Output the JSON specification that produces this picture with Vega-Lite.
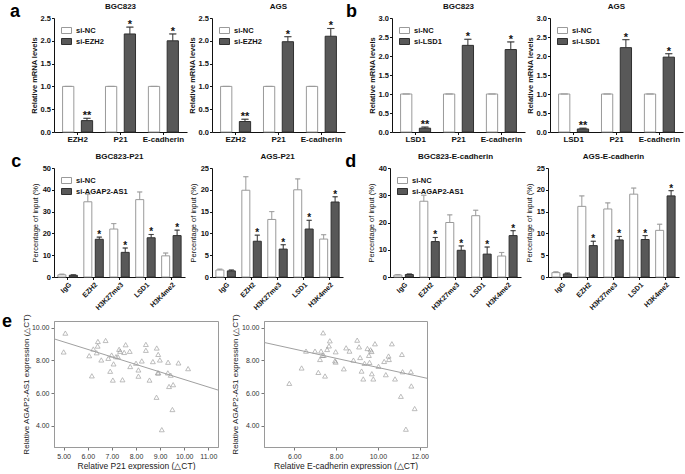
{
  "$schema": "https://vega.github.io/schema/vega-lite/v6.json",
  "padding": {"left": 1, "top": 3, "right": 1, "bottom": 0},
  "background": "white",
  "datasets": {
    "a1": [
      {"gene": "EZH2", "group": "si-NC", "value": 1, "upper": 1, "star": ""},
      {"gene": "EZH2", "group": "si-EZH2", "value": 0.25, "upper": 0.30, "star": "**"},
      {"gene": "P21", "group": "si-NC", "value": 1, "upper": 1, "star": ""},
      {"gene": "P21", "group": "si-EZH2", "value": 2.15, "upper": 2.30, "star": "*"},
      {"gene": "E-cadherin", "group": "si-NC", "value": 1, "upper": 1, "star": ""},
      {"gene": "E-cadherin", "group": "si-EZH2", "value": 2.00, "upper": 2.15, "star": "*"}
    ],
    "a2": [
      {"gene": "EZH2", "group": "si-NC", "value": 1, "upper": 1, "star": ""},
      {"gene": "EZH2", "group": "si-EZH2", "value": 0.23, "upper": 0.28, "star": "**"},
      {"gene": "P21", "group": "si-NC", "value": 1, "upper": 1, "star": ""},
      {"gene": "P21", "group": "si-EZH2", "value": 1.98, "upper": 2.09, "star": "*"},
      {"gene": "E-cadherin", "group": "si-NC", "value": 1, "upper": 1, "star": ""},
      {"gene": "E-cadherin", "group": "si-EZH2", "value": 2.10, "upper": 2.27, "star": "*"}
    ],
    "b1": [
      {"gene": "LSD1", "group": "si-NC", "value": 1, "upper": 1, "star": ""},
      {"gene": "LSD1", "group": "si-LSD1", "value": 0.10, "upper": 0.13, "star": "**"},
      {"gene": "P21", "group": "si-NC", "value": 1, "upper": 1, "star": ""},
      {"gene": "P21", "group": "si-LSD1", "value": 2.28, "upper": 2.44, "star": "*"},
      {"gene": "E-cadherin", "group": "si-NC", "value": 1, "upper": 1, "star": ""},
      {"gene": "E-cadherin", "group": "si-LSD1", "value": 2.17, "upper": 2.37, "star": "*"}
    ],
    "b2": [
      {"gene": "LSD1", "group": "si-NC", "value": 1, "upper": 1, "star": ""},
      {"gene": "LSD1", "group": "si-LSD1", "value": 0.08, "upper": 0.10, "star": "**"},
      {"gene": "P21", "group": "si-NC", "value": 1, "upper": 1, "star": ""},
      {"gene": "P21", "group": "si-LSD1", "value": 2.22, "upper": 2.43, "star": "*"},
      {"gene": "E-cadherin", "group": "si-NC", "value": 1, "upper": 1, "star": ""},
      {"gene": "E-cadherin", "group": "si-LSD1", "value": 1.97, "upper": 2.06, "star": "*"}
    ],
    "c1": [
      {"gene": "IgG", "group": "si-NC", "value": 1.0, "upper": 1.3, "star": ""},
      {"gene": "IgG", "group": "si-AGAP2-AS1", "value": 0.8, "upper": 1.0, "star": ""},
      {"gene": "EZH2", "group": "si-NC", "value": 34.5, "upper": 38.0, "star": ""},
      {"gene": "EZH2", "group": "si-AGAP2-AS1", "value": 17.3, "upper": 18.3, "star": "*"},
      {"gene": "H3K27me3", "group": "si-NC", "value": 22.0, "upper": 24.5, "star": ""},
      {"gene": "H3K27me3", "group": "si-AGAP2-AS1", "value": 11.3, "upper": 13.3, "star": "*"},
      {"gene": "LSD1", "group": "si-NC", "value": 35.5, "upper": 39.0, "star": ""},
      {"gene": "LSD1", "group": "si-AGAP2-AS1", "value": 18.0, "upper": 19.5, "star": "*"},
      {"gene": "H3K4me2", "group": "si-NC", "value": 9.7, "upper": 11.0, "star": ""},
      {"gene": "H3K4me2", "group": "si-AGAP2-AS1", "value": 19.0, "upper": 21.5, "star": "*"}
    ],
    "c2": [
      {"gene": "IgG", "group": "si-NC", "value": 1.6, "upper": 1.8, "star": ""},
      {"gene": "IgG", "group": "si-AGAP2-AS1", "value": 1.4, "upper": 1.6, "star": ""},
      {"gene": "EZH2", "group": "si-NC", "value": 19.9, "upper": 23.0, "star": ""},
      {"gene": "EZH2", "group": "si-AGAP2-AS1", "value": 8.2, "upper": 9.6, "star": "*"},
      {"gene": "H3K27me3", "group": "si-NC", "value": 13.2, "upper": 15.0, "star": ""},
      {"gene": "H3K27me3", "group": "si-AGAP2-AS1", "value": 6.4, "upper": 7.4, "star": "*"},
      {"gene": "LSD1", "group": "si-NC", "value": 20.0, "upper": 22.5, "star": ""},
      {"gene": "LSD1", "group": "si-AGAP2-AS1", "value": 11.0, "upper": 13.0, "star": "*"},
      {"gene": "H3K4me2", "group": "si-NC", "value": 8.7, "upper": 9.7, "star": ""},
      {"gene": "H3K4me2", "group": "si-AGAP2-AS1", "value": 17.2, "upper": 18.4, "star": "*"}
    ],
    "d1": [
      {"gene": "IgG", "group": "si-NC", "value": 0.7, "upper": 0.9, "star": ""},
      {"gene": "IgG", "group": "si-AGAP2-AS1", "value": 0.9, "upper": 1.1, "star": ""},
      {"gene": "EZH2", "group": "si-NC", "value": 27.8, "upper": 30.0, "star": ""},
      {"gene": "EZH2", "group": "si-AGAP2-AS1", "value": 13.0, "upper": 14.5, "star": "*"},
      {"gene": "H3K27me3", "group": "si-NC", "value": 20.0, "upper": 22.8, "star": ""},
      {"gene": "H3K27me3", "group": "si-AGAP2-AS1", "value": 9.8, "upper": 11.4, "star": "*"},
      {"gene": "LSD1", "group": "si-NC", "value": 22.5, "upper": 24.5, "star": ""},
      {"gene": "LSD1", "group": "si-AGAP2-AS1", "value": 8.4, "upper": 11.0, "star": "*"},
      {"gene": "H3K4me2", "group": "si-NC", "value": 7.7, "upper": 9.0, "star": ""},
      {"gene": "H3K4me2", "group": "si-AGAP2-AS1", "value": 15.2, "upper": 17.0, "star": "*"}
    ],
    "d2": [
      {"gene": "IgG", "group": "si-NC", "value": 1.0, "upper": 1.2, "star": ""},
      {"gene": "IgG", "group": "si-AGAP2-AS1", "value": 0.7, "upper": 0.9, "star": ""},
      {"gene": "EZH2", "group": "si-NC", "value": 16.2, "upper": 18.6, "star": ""},
      {"gene": "EZH2", "group": "si-AGAP2-AS1", "value": 7.2, "upper": 8.2, "star": "*"},
      {"gene": "H3K27me3", "group": "si-NC", "value": 15.6, "upper": 17.0, "star": ""},
      {"gene": "H3K27me3", "group": "si-AGAP2-AS1", "value": 8.5, "upper": 9.3, "star": "*"},
      {"gene": "LSD1", "group": "si-NC", "value": 19.0, "upper": 20.4, "star": ""},
      {"gene": "LSD1", "group": "si-AGAP2-AS1", "value": 8.6, "upper": 9.5, "star": "*"},
      {"gene": "H3K4me2", "group": "si-NC", "value": 10.7, "upper": 12.1, "star": ""},
      {"gene": "H3K4me2", "group": "si-AGAP2-AS1", "value": 18.6, "upper": 19.8, "star": "*"}
    ],
    "e1pts": [
      {"x": 5.07, "y": 9.66}, {"x": 5.0, "y": 8.51}, {"x": 6.06, "y": 8.28}, {"x": 6.17, "y": 7.05},
      {"x": 6.23, "y": 8.69}, {"x": 6.37, "y": 8.46}, {"x": 6.41, "y": 8.87}, {"x": 6.42, "y": 9.15},
      {"x": 6.56, "y": 8.02}, {"x": 6.74, "y": 9.21}, {"x": 6.85, "y": 8.12}, {"x": 6.93, "y": 7.33},
      {"x": 6.99, "y": 8.32}, {"x": 7.04, "y": 6.79}, {"x": 7.07, "y": 7.78}, {"x": 7.17, "y": 8.22},
      {"x": 7.25, "y": 8.22}, {"x": 7.3, "y": 8.67}, {"x": 7.34, "y": 8.55}, {"x": 7.44, "y": 6.81},
      {"x": 7.51, "y": 8.48}, {"x": 7.57, "y": 8.95}, {"x": 7.74, "y": 8.55}, {"x": 7.76, "y": 7.62},
      {"x": 8.0, "y": 7.82}, {"x": 8.1, "y": 7.41}, {"x": 8.1, "y": 7.03}, {"x": 8.24, "y": 7.96},
      {"x": 8.41, "y": 8.97}, {"x": 8.41, "y": 8.61}, {"x": 8.56, "y": 6.79}, {"x": 8.7, "y": 7.92},
      {"x": 8.86, "y": 8.75}, {"x": 8.92, "y": 8.36}, {"x": 8.99, "y": 8.02}, {"x": 8.85, "y": 5.74},
      {"x": 8.9, "y": 7.23}, {"x": 8.93, "y": 7.23}, {"x": 9.33, "y": 7.88}, {"x": 9.32, "y": 7.23},
      {"x": 9.37, "y": 6.4}, {"x": 9.44, "y": 7.09}, {"x": 9.54, "y": 6.51}, {"x": 9.51, "y": 4.99},
      {"x": 9.07, "y": 3.76}, {"x": 9.76, "y": 7.84}, {"x": 10.16, "y": 7.49}
    ],
    "e1fit": [{"x": 4.6, "y": 9.31}, {"x": 11.4, "y": 6.18}],
    "e2pts": [
      {"x": 5.76, "y": 6.59}, {"x": 6.35, "y": 7.53}, {"x": 6.56, "y": 8.56}, {"x": 6.99, "y": 8.56},
      {"x": 7.15, "y": 7.26}, {"x": 7.23, "y": 8.05}, {"x": 7.28, "y": 8.56}, {"x": 7.34, "y": 8.30},
      {"x": 7.38, "y": 9.68}, {"x": 7.41, "y": 8.30}, {"x": 7.47, "y": 7.04}, {"x": 7.57, "y": 8.66},
      {"x": 7.66, "y": 8.88}, {"x": 7.70, "y": 9.19}, {"x": 7.95, "y": 7.97}, {"x": 7.98, "y": 8.52},
      {"x": 7.98, "y": 7.89}, {"x": 8.37, "y": 7.48}, {"x": 8.48, "y": 8.76}, {"x": 8.64, "y": 8.56},
      {"x": 8.83, "y": 8.01}, {"x": 9.01, "y": 9.23}, {"x": 9.10, "y": 8.82}, {"x": 9.15, "y": 8.17},
      {"x": 9.22, "y": 7.34}, {"x": 9.30, "y": 6.86}, {"x": 9.36, "y": 7.81}, {"x": 9.50, "y": 8.72},
      {"x": 9.57, "y": 8.30}, {"x": 9.60, "y": 7.87}, {"x": 9.65, "y": 8.64}, {"x": 9.70, "y": 8.54},
      {"x": 9.71, "y": 7.18}, {"x": 9.78, "y": 6.86}, {"x": 9.86, "y": 9.01}, {"x": 10.03, "y": 7.63},
      {"x": 10.30, "y": 7.93}, {"x": 10.38, "y": 7.12}, {"x": 10.51, "y": 8.26}, {"x": 10.53, "y": 8.05},
      {"x": 10.67, "y": 9.01}, {"x": 10.82, "y": 6.86}, {"x": 11.10, "y": 5.80}, {"x": 11.15, "y": 8.36},
      {"x": 11.18, "y": 7.30}, {"x": 11.34, "y": 3.79}, {"x": 11.58, "y": 7.30}, {"x": 11.60, "y": 6.43},
      {"x": 11.76, "y": 5.05}
    ],
    "e2fit": [{"x": 4.55, "y": 9.09}, {"x": 12.35, "y": 6.90}]
  },
  "concat": [
    {
      "concat": [
        {
          "hconcat": [
            {
              "title": {"text": "a", "orient": "left", "anchor": "end", "angle": 0, "align": "right", "baseline": "top", "fontSize": 18, "fontWeight": "bold", "offset": 0, "color": "#000"},
              "hconcat": [
                {
                  "title": "BGC823", "width": 133, "height": 114, "data": {"name": "a1"},
                  "encoding": {
                    "x": {"field": "gene", "type": "nominal", "title": null, "scale": {"domain": ["EZH2", "P21", "E-cadherin"], "paddingInner": 0.3, "paddingOuter": 0.2}, "axis": {"labelAngle": 0, "labelFontSize": 8}},
                    "y": {"field": "value", "type": "quantitative", "title": "Relative mRNA levels", "scale": {"domain": [0, 2.5], "nice": false}, "axis": {"values": [0, 0.5, 1, 1.5, 2, 2.5], "format": ".1f"}}
                  },
                  "layer": [
                    {"mark": {"type": "bar", "strokeWidth": 1},
                     "encoding": {
                       "xOffset": {"field": "group", "type": "nominal", "scale": {"domain": ["si-NC", "si-EZH2"], "paddingInner": 0.4}},
                       "fill": {"field": "group", "type": "nominal", "scale": {"domain": ["si-NC", "si-EZH2"], "range": ["#ffffff", "#585858"]}, "legend": {"title": null}},
                       "stroke": {"field": "group", "type": "nominal", "scale": {"domain": ["si-NC", "si-EZH2"], "range": ["#9a9a9a", "#303030"]}, "legend": {"title": null}}
                     }},
                    {"mark": {"type": "rule", "strokeWidth": 1},
                     "encoding": {"xOffset": {"field": "group", "type": "nominal"}, "y2": {"field": "upper"}, "stroke": {"field": "group", "type": "nominal"}}},
                    {"mark": {"type": "tick", "filled": false, "thickness": 0.1, "size": 7, "strokeWidth": 1},
                     "encoding": {"xOffset": {"field": "group", "type": "nominal"}, "y": {"field": "upper", "type": "quantitative", "title": "Relative mRNA levels", "axis": {"values": [0, 0.5, 1, 1.5, 2, 2.5], "format": ".1f"}}, "stroke": {"field": "group", "type": "nominal"}}},
                    {"mark": {"type": "text", "fontSize": 11, "fontWeight": "bold", "baseline": "alphabetic", "dy": 1, "fill": "#111"},
                     "encoding": {"xOffset": {"field": "group", "type": "nominal"}, "y": {"field": "upper", "type": "quantitative", "title": "Relative mRNA levels", "axis": {"values": [0, 0.5, 1, 1.5, 2, 2.5], "format": ".1f"}}, "text": {"field": "star"}}}
                  ]
                },
                {
                  "title": "AGS", "width": 133, "height": 114, "data": {"name": "a2"},
                  "encoding": {
                    "x": {"field": "gene", "type": "nominal", "title": null, "scale": {"domain": ["EZH2", "P21", "E-cadherin"], "paddingInner": 0.3, "paddingOuter": 0.2}, "axis": {"labelAngle": 0, "labelFontSize": 8}},
                    "y": {"field": "value", "type": "quantitative", "title": "Relative mRNA levels", "scale": {"domain": [0, 2.5], "nice": false}, "axis": {"values": [0, 0.5, 1, 1.5, 2, 2.5], "format": ".1f"}}
                  },
                  "layer": [
                    {"mark": {"type": "bar", "strokeWidth": 1},
                     "encoding": {
                       "xOffset": {"field": "group", "type": "nominal", "scale": {"domain": ["si-NC", "si-EZH2"], "paddingInner": 0.4}},
                       "fill": {"field": "group", "type": "nominal", "scale": {"domain": ["si-NC", "si-EZH2"], "range": ["#ffffff", "#585858"]}, "legend": {"title": null}},
                       "stroke": {"field": "group", "type": "nominal", "scale": {"domain": ["si-NC", "si-EZH2"], "range": ["#9a9a9a", "#303030"]}, "legend": {"title": null}}
                     }},
                    {"mark": {"type": "rule", "strokeWidth": 1},
                     "encoding": {"xOffset": {"field": "group", "type": "nominal"}, "y2": {"field": "upper"}, "stroke": {"field": "group", "type": "nominal"}}},
                    {"mark": {"type": "tick", "filled": false, "thickness": 0.1, "size": 7, "strokeWidth": 1},
                     "encoding": {"xOffset": {"field": "group", "type": "nominal"}, "y": {"field": "upper", "type": "quantitative", "title": "Relative mRNA levels", "axis": {"values": [0, 0.5, 1, 1.5, 2, 2.5], "format": ".1f"}}, "stroke": {"field": "group", "type": "nominal"}}},
                    {"mark": {"type": "text", "fontSize": 11, "fontWeight": "bold", "baseline": "alphabetic", "dy": 1, "fill": "#111"},
                     "encoding": {"xOffset": {"field": "group", "type": "nominal"}, "y": {"field": "upper", "type": "quantitative", "title": "Relative mRNA levels", "axis": {"values": [0, 0.5, 1, 1.5, 2, 2.5], "format": ".1f"}}, "text": {"field": "star"}}}
                  ]
                }
              ],
              "spacing": 1,
              "resolve": {"scale": {"fill": "independent", "stroke": "independent", "xOffset": "independent"}, "legend": {"fill": "independent", "stroke": "independent"}}
            },
            {
              "title": {"text": "b", "orient": "left", "anchor": "end", "angle": 0, "align": "right", "baseline": "top", "fontSize": 18, "fontWeight": "bold", "offset": 0, "color": "#000"},
              "hconcat": [
                {
                  "title": "BGC823", "width": 133, "height": 114, "data": {"name": "b1"},
                  "encoding": {
                    "x": {"field": "gene", "type": "nominal", "title": null, "scale": {"domain": ["LSD1", "P21", "E-cadherin"], "paddingInner": 0.3, "paddingOuter": 0.2}, "axis": {"labelAngle": 0, "labelFontSize": 8}},
                    "y": {"field": "value", "type": "quantitative", "title": "Relative mRNA levels", "scale": {"domain": [0, 3], "nice": false}, "axis": {"values": [0, 0.5, 1, 1.5, 2, 2.5, 3], "format": ".1f"}}
                  },
                  "layer": [
                    {"mark": {"type": "bar", "strokeWidth": 1},
                     "encoding": {
                       "xOffset": {"field": "group", "type": "nominal", "scale": {"domain": ["si-NC", "si-LSD1"], "paddingInner": 0.4}},
                       "fill": {"field": "group", "type": "nominal", "scale": {"domain": ["si-NC", "si-LSD1"], "range": ["#ffffff", "#585858"]}, "legend": {"title": null}},
                       "stroke": {"field": "group", "type": "nominal", "scale": {"domain": ["si-NC", "si-LSD1"], "range": ["#9a9a9a", "#303030"]}, "legend": {"title": null}}
                     }},
                    {"mark": {"type": "rule", "strokeWidth": 1},
                     "encoding": {"xOffset": {"field": "group", "type": "nominal"}, "y2": {"field": "upper"}, "stroke": {"field": "group", "type": "nominal"}}},
                    {"mark": {"type": "tick", "filled": false, "thickness": 0.1, "size": 7, "strokeWidth": 1},
                     "encoding": {"xOffset": {"field": "group", "type": "nominal"}, "y": {"field": "upper", "type": "quantitative", "title": "Relative mRNA levels", "axis": {"values": [0, 0.5, 1, 1.5, 2, 2.5, 3], "format": ".1f"}}, "stroke": {"field": "group", "type": "nominal"}}},
                    {"mark": {"type": "text", "fontSize": 11, "fontWeight": "bold", "baseline": "alphabetic", "dy": 1, "fill": "#111"},
                     "encoding": {"xOffset": {"field": "group", "type": "nominal"}, "y": {"field": "upper", "type": "quantitative", "title": "Relative mRNA levels", "axis": {"values": [0, 0.5, 1, 1.5, 2, 2.5, 3], "format": ".1f"}}, "text": {"field": "star"}}}
                  ]
                },
                {
                  "title": "AGS", "width": 133, "height": 114, "data": {"name": "b2"},
                  "encoding": {
                    "x": {"field": "gene", "type": "nominal", "title": null, "scale": {"domain": ["LSD1", "P21", "E-cadherin"], "paddingInner": 0.3, "paddingOuter": 0.2}, "axis": {"labelAngle": 0, "labelFontSize": 8}},
                    "y": {"field": "value", "type": "quantitative", "title": "Relative mRNA levels", "scale": {"domain": [0, 3], "nice": false}, "axis": {"values": [0, 0.5, 1, 1.5, 2, 2.5, 3], "format": ".1f"}}
                  },
                  "layer": [
                    {"mark": {"type": "bar", "strokeWidth": 1},
                     "encoding": {
                       "xOffset": {"field": "group", "type": "nominal", "scale": {"domain": ["si-NC", "si-LSD1"], "paddingInner": 0.4}},
                       "fill": {"field": "group", "type": "nominal", "scale": {"domain": ["si-NC", "si-LSD1"], "range": ["#ffffff", "#585858"]}, "legend": {"title": null}},
                       "stroke": {"field": "group", "type": "nominal", "scale": {"domain": ["si-NC", "si-LSD1"], "range": ["#9a9a9a", "#303030"]}, "legend": {"title": null}}
                     }},
                    {"mark": {"type": "rule", "strokeWidth": 1},
                     "encoding": {"xOffset": {"field": "group", "type": "nominal"}, "y2": {"field": "upper"}, "stroke": {"field": "group", "type": "nominal"}}},
                    {"mark": {"type": "tick", "filled": false, "thickness": 0.1, "size": 7, "strokeWidth": 1},
                     "encoding": {"xOffset": {"field": "group", "type": "nominal"}, "y": {"field": "upper", "type": "quantitative", "title": "Relative mRNA levels", "axis": {"values": [0, 0.5, 1, 1.5, 2, 2.5, 3], "format": ".1f"}}, "stroke": {"field": "group", "type": "nominal"}}},
                    {"mark": {"type": "text", "fontSize": 11, "fontWeight": "bold", "baseline": "alphabetic", "dy": 1, "fill": "#111"},
                     "encoding": {"xOffset": {"field": "group", "type": "nominal"}, "y": {"field": "upper", "type": "quantitative", "title": "Relative mRNA levels", "axis": {"values": [0, 0.5, 1, 1.5, 2, 2.5, 3], "format": ".1f"}}, "text": {"field": "star"}}}
                  ]
                }
              ],
              "spacing": 1,
              "resolve": {"scale": {"fill": "independent", "stroke": "independent", "xOffset": "independent"}, "legend": {"fill": "independent", "stroke": "independent"}}
            }
          ],
          "spacing": 1,
          "resolve": {"scale": {"fill": "independent", "stroke": "independent", "xOffset": "independent"}, "legend": {"fill": "independent", "stroke": "independent"}}
        },
        {
          "hconcat": [
            {
              "title": {"text": "c", "orient": "left", "anchor": "end", "angle": 0, "align": "right", "baseline": "top", "fontSize": 18, "fontWeight": "bold", "offset": 0, "color": "#000"},
              "hconcat": [
                {
                  "title": "BGC823-P21", "width": 131, "height": 109, "data": {"name": "c1"},
                  "encoding": {
                    "x": {"field": "gene", "type": "nominal", "title": null, "scale": {"domain": ["IgG", "EZH2", "H3K27me3", "LSD1", "H3K4me2"], "paddingInner": 0.25, "paddingOuter": 0.15}, "axis": {"labelAngle": -45, "labelFontSize": 7}},
                    "y": {"field": "value", "type": "quantitative", "title": "Percentage of input (%)", "scale": {"domain": [0, 50], "nice": false}, "axis": {"values": [0, 10, 20, 30, 40, 50], "titleFontWeight": "normal", "titlePadding": 3}}
                  },
                  "layer": [
                    {"mark": {"type": "bar", "strokeWidth": 1},
                     "encoding": {
                       "xOffset": {"field": "group", "type": "nominal", "scale": {"domain": ["si-NC", "si-AGAP2-AS1"], "paddingInner": 0.3}},
                       "fill": {"field": "group", "type": "nominal", "scale": {"domain": ["si-NC", "si-AGAP2-AS1"], "range": ["#ffffff", "#585858"]}, "legend": {"title": null}},
                       "stroke": {"field": "group", "type": "nominal", "scale": {"domain": ["si-NC", "si-AGAP2-AS1"], "range": ["#9a9a9a", "#303030"]}, "legend": {"title": null}}
                     }},
                    {"mark": {"type": "rule", "strokeWidth": 1},
                     "encoding": {"xOffset": {"field": "group", "type": "nominal"}, "y2": {"field": "upper"}, "stroke": {"field": "group", "type": "nominal"}}},
                    {"mark": {"type": "tick", "filled": false, "thickness": 0.1, "size": 5, "strokeWidth": 1},
                     "encoding": {"xOffset": {"field": "group", "type": "nominal"}, "y": {"field": "upper", "type": "quantitative", "title": "Percentage of input (%)", "axis": {"values": [0, 10, 20, 30, 40, 50], "titleFontWeight": "normal", "titlePadding": 3}}, "stroke": {"field": "group", "type": "nominal"}}},
                    {"mark": {"type": "text", "fontSize": 10, "fontWeight": "bold", "baseline": "alphabetic", "dy": 1, "fill": "#111"},
                     "encoding": {"xOffset": {"field": "group", "type": "nominal"}, "y": {"field": "upper", "type": "quantitative", "title": "Percentage of input (%)", "axis": {"values": [0, 10, 20, 30, 40, 50], "titleFontWeight": "normal", "titlePadding": 3}}, "text": {"field": "star"}}}
                  ]
                },
                {
                  "title": "AGS-P21", "width": 131, "height": 109, "data": {"name": "c2"},
                  "encoding": {
                    "x": {"field": "gene", "type": "nominal", "title": null, "scale": {"domain": ["IgG", "EZH2", "H3K27me3", "LSD1", "H3K4me2"], "paddingInner": 0.25, "paddingOuter": 0.15}, "axis": {"labelAngle": -45, "labelFontSize": 7}},
                    "y": {"field": "value", "type": "quantitative", "title": "Percentage of input (%)", "scale": {"domain": [0, 25], "nice": false}, "axis": {"values": [0, 5, 10, 15, 20, 25], "titleFontWeight": "normal", "titlePadding": 3}}
                  },
                  "layer": [
                    {"mark": {"type": "bar", "strokeWidth": 1},
                     "encoding": {
                       "xOffset": {"field": "group", "type": "nominal", "scale": {"domain": ["si-NC", "si-AGAP2-AS1"], "paddingInner": 0.3}},
                       "fill": {"field": "group", "type": "nominal", "scale": {"domain": ["si-NC", "si-AGAP2-AS1"], "range": ["#ffffff", "#585858"]}, "legend": null},
                       "stroke": {"field": "group", "type": "nominal", "scale": {"domain": ["si-NC", "si-AGAP2-AS1"], "range": ["#9a9a9a", "#303030"]}, "legend": null}
                     }},
                    {"mark": {"type": "rule", "strokeWidth": 1},
                     "encoding": {"xOffset": {"field": "group", "type": "nominal"}, "y2": {"field": "upper"}, "stroke": {"field": "group", "type": "nominal"}}},
                    {"mark": {"type": "tick", "filled": false, "thickness": 0.1, "size": 5, "strokeWidth": 1},
                     "encoding": {"xOffset": {"field": "group", "type": "nominal"}, "y": {"field": "upper", "type": "quantitative", "title": "Percentage of input (%)", "axis": {"values": [0, 5, 10, 15, 20, 25], "titleFontWeight": "normal", "titlePadding": 3}}, "stroke": {"field": "group", "type": "nominal"}}},
                    {"mark": {"type": "text", "fontSize": 10, "fontWeight": "bold", "baseline": "alphabetic", "dy": 1, "fill": "#111"},
                     "encoding": {"xOffset": {"field": "group", "type": "nominal"}, "y": {"field": "upper", "type": "quantitative", "title": "Percentage of input (%)", "axis": {"values": [0, 5, 10, 15, 20, 25], "titleFontWeight": "normal", "titlePadding": 3}}, "text": {"field": "star"}}}
                  ]
                }
              ],
              "spacing": 4,
              "resolve": {"scale": {"fill": "independent", "stroke": "independent", "xOffset": "independent"}, "legend": {"fill": "independent", "stroke": "independent"}}
            },
            {
              "title": {"text": "d", "orient": "left", "anchor": "end", "angle": 0, "align": "right", "baseline": "top", "fontSize": 18, "fontWeight": "bold", "offset": 0, "color": "#000"},
              "hconcat": [
                {
                  "title": "BGC823-E-cadherin", "width": 131, "height": 109, "data": {"name": "d1"},
                  "encoding": {
                    "x": {"field": "gene", "type": "nominal", "title": null, "scale": {"domain": ["IgG", "EZH2", "H3K27me3", "LSD1", "H3K4me2"], "paddingInner": 0.25, "paddingOuter": 0.15}, "axis": {"labelAngle": -45, "labelFontSize": 7}},
                    "y": {"field": "value", "type": "quantitative", "title": "Percentage of input (%)", "scale": {"domain": [0, 40], "nice": false}, "axis": {"values": [0, 10, 20, 30, 40], "titleFontWeight": "normal", "titlePadding": 3}}
                  },
                  "layer": [
                    {"mark": {"type": "bar", "strokeWidth": 1},
                     "encoding": {
                       "xOffset": {"field": "group", "type": "nominal", "scale": {"domain": ["si-NC", "si-AGAP2-AS1"], "paddingInner": 0.3}},
                       "fill": {"field": "group", "type": "nominal", "scale": {"domain": ["si-NC", "si-AGAP2-AS1"], "range": ["#ffffff", "#585858"]}, "legend": {"title": null}},
                       "stroke": {"field": "group", "type": "nominal", "scale": {"domain": ["si-NC", "si-AGAP2-AS1"], "range": ["#9a9a9a", "#303030"]}, "legend": {"title": null}}
                     }},
                    {"mark": {"type": "rule", "strokeWidth": 1},
                     "encoding": {"xOffset": {"field": "group", "type": "nominal"}, "y2": {"field": "upper"}, "stroke": {"field": "group", "type": "nominal"}}},
                    {"mark": {"type": "tick", "filled": false, "thickness": 0.1, "size": 5, "strokeWidth": 1},
                     "encoding": {"xOffset": {"field": "group", "type": "nominal"}, "y": {"field": "upper", "type": "quantitative", "title": "Percentage of input (%)", "axis": {"values": [0, 10, 20, 30, 40], "titleFontWeight": "normal", "titlePadding": 3}}, "stroke": {"field": "group", "type": "nominal"}}},
                    {"mark": {"type": "text", "fontSize": 10, "fontWeight": "bold", "baseline": "alphabetic", "dy": 1, "fill": "#111"},
                     "encoding": {"xOffset": {"field": "group", "type": "nominal"}, "y": {"field": "upper", "type": "quantitative", "title": "Percentage of input (%)", "axis": {"values": [0, 10, 20, 30, 40], "titleFontWeight": "normal", "titlePadding": 3}}, "text": {"field": "star"}}}
                  ]
                },
                {
                  "title": "AGS-E-cadherin", "width": 131, "height": 109, "data": {"name": "d2"},
                  "encoding": {
                    "x": {"field": "gene", "type": "nominal", "title": null, "scale": {"domain": ["IgG", "EZH2", "H3K27me3", "LSD1", "H3K4me2"], "paddingInner": 0.25, "paddingOuter": 0.15}, "axis": {"labelAngle": -45, "labelFontSize": 7}},
                    "y": {"field": "value", "type": "quantitative", "title": "Percentage of input (%)", "scale": {"domain": [0, 25], "nice": false}, "axis": {"values": [0, 5, 10, 15, 20, 25], "titleFontWeight": "normal", "titlePadding": 3}}
                  },
                  "layer": [
                    {"mark": {"type": "bar", "strokeWidth": 1},
                     "encoding": {
                       "xOffset": {"field": "group", "type": "nominal", "scale": {"domain": ["si-NC", "si-AGAP2-AS1"], "paddingInner": 0.3}},
                       "fill": {"field": "group", "type": "nominal", "scale": {"domain": ["si-NC", "si-AGAP2-AS1"], "range": ["#ffffff", "#585858"]}, "legend": null},
                       "stroke": {"field": "group", "type": "nominal", "scale": {"domain": ["si-NC", "si-AGAP2-AS1"], "range": ["#9a9a9a", "#303030"]}, "legend": null}
                     }},
                    {"mark": {"type": "rule", "strokeWidth": 1},
                     "encoding": {"xOffset": {"field": "group", "type": "nominal"}, "y2": {"field": "upper"}, "stroke": {"field": "group", "type": "nominal"}}},
                    {"mark": {"type": "tick", "filled": false, "thickness": 0.1, "size": 5, "strokeWidth": 1},
                     "encoding": {"xOffset": {"field": "group", "type": "nominal"}, "y": {"field": "upper", "type": "quantitative", "title": "Percentage of input (%)", "axis": {"values": [0, 5, 10, 15, 20, 25], "titleFontWeight": "normal", "titlePadding": 3}}, "stroke": {"field": "group", "type": "nominal"}}},
                    {"mark": {"type": "text", "fontSize": 10, "fontWeight": "bold", "baseline": "alphabetic", "dy": 1, "fill": "#111"},
                     "encoding": {"xOffset": {"field": "group", "type": "nominal"}, "y": {"field": "upper", "type": "quantitative", "title": "Percentage of input (%)", "axis": {"values": [0, 5, 10, 15, 20, 25], "titleFontWeight": "normal", "titlePadding": 3}}, "text": {"field": "star"}}}
                  ]
                }
              ],
              "spacing": 4,
              "resolve": {"scale": {"fill": "independent", "stroke": "independent", "xOffset": "independent"}, "legend": {"fill": "independent", "stroke": "independent"}}
            }
          ],
          "spacing": 2,
          "resolve": {"scale": {"fill": "independent", "stroke": "independent", "xOffset": "independent"}, "legend": {"fill": "independent", "stroke": "independent"}}
        }
      ],
      "columns": 1,
      "align": "none",
      "spacing": 9,
      "resolve": {"scale": {"fill": "independent", "stroke": "independent", "xOffset": "independent"}, "legend": {"fill": "independent", "stroke": "independent"}}
    },
    {
      "title": {"text": "e", "orient": "left", "anchor": "end", "angle": 0, "align": "right", "baseline": "top", "fontSize": 18, "fontWeight": "bold", "offset": 0, "color": "#000"},
      "hconcat": [
        {
          "width": 164, "height": 126,
          "view": {"stroke": "#9a9a9a", "strokeWidth": 1},
          "encoding": {
            "x": {"field": "x", "type": "quantitative", "scale": {"domain": [4.6, 11.4], "nice": false, "zero": false}, "title": "Relative P21 expression (△CT)",
                  "axis": {"values": [5, 6, 7, 8, 9, 10, 11], "format": ".2f", "labelFontWeight": "normal", "labelFontSize": 7, "labelColor": "#333", "titleFontWeight": "normal", "titleFontSize": 8.5, "titleColor": "#222", "domainColor": "#9a9a9a", "tickColor": "#777", "tickSize": 3, "labelPadding": 2, "titlePadding": 2}},
            "y": {"field": "y", "type": "quantitative", "scale": {"domain": [2.7, 10.4], "nice": false, "zero": false}, "title": "Relative AGAP2-AS1 expression (△CT)",
                  "axis": {"values": [4, 6, 8, 10], "format": ".2f", "labelFontWeight": "normal", "labelFontSize": 7, "labelColor": "#333", "titleFontWeight": "normal", "titleFontSize": 8, "titleColor": "#222", "domainColor": "#9a9a9a", "tickColor": "#777", "tickSize": 3, "labelPadding": 2, "titlePadding": 1}}
          },
          "layer": [
            {"data": {"name": "e1pts"},
             "mark": {"type": "point", "shape": "triangle-up", "size": 24, "strokeWidth": 0.8, "stroke": "#8a8a8a", "filled": false}},
            {"data": {"name": "e1fit"},
             "mark": {"type": "line", "stroke": "#a0a0a0", "strokeWidth": 1}},
            {"data": {"values": [{"label": "R=-0.519"}]},
             "mark": {"type": "text", "align": "left", "baseline": "middle", "fontSize": 8.5, "fill": "#222"},
             "encoding": {"text": {"field": "label"},
               "x": {"datum": 4.95, "type": "quantitative", "title": "Relative P21 expression (△CT)", "axis": {"values": [5, 6, 7, 8, 9, 10, 11], "format": ".2f", "labelFontWeight": "normal", "labelFontSize": 7, "labelColor": "#333", "titleFontWeight": "normal", "titleFontSize": 8.5, "titleColor": "#222", "domainColor": "#9a9a9a", "tickColor": "#777", "tickSize": 3, "labelPadding": 2, "titlePadding": 2}},
               "y": {"datum": 5.0, "type": "quantitative", "title": "Relative AGAP2-AS1 expression (△CT)", "axis": {"values": [4, 6, 8, 10], "format": ".2f", "labelFontWeight": "normal", "labelFontSize": 7, "labelColor": "#333", "titleFontWeight": "normal", "titleFontSize": 8, "titleColor": "#222", "domainColor": "#9a9a9a", "tickColor": "#777", "tickSize": 3, "labelPadding": 2, "titlePadding": 1}}}},
            {"data": {"values": [{"label": "P"}]},
             "mark": {"type": "text", "align": "left", "baseline": "middle", "fontSize": 8.5, "fontStyle": "italic", "fill": "#222"},
             "encoding": {"text": {"field": "label"},
               "x": {"datum": 4.95, "type": "quantitative", "title": "Relative P21 expression (△CT)", "axis": {"values": [5, 6, 7, 8, 9, 10, 11], "format": ".2f", "labelFontWeight": "normal", "labelFontSize": 7, "labelColor": "#333", "titleFontWeight": "normal", "titleFontSize": 8.5, "titleColor": "#222", "domainColor": "#9a9a9a", "tickColor": "#777", "tickSize": 3, "labelPadding": 2, "titlePadding": 2}},
               "y": {"datum": 3.35, "type": "quantitative", "title": "Relative AGAP2-AS1 expression (△CT)", "axis": {"values": [4, 6, 8, 10], "format": ".2f", "labelFontWeight": "normal", "labelFontSize": 7, "labelColor": "#333", "titleFontWeight": "normal", "titleFontSize": 8, "titleColor": "#222", "domainColor": "#9a9a9a", "tickColor": "#777", "tickSize": 3, "labelPadding": 2, "titlePadding": 1}}}},
            {"data": {"values": [{"label": "=0.01"}]},
             "mark": {"type": "text", "align": "left", "baseline": "middle", "fontSize": 8.5, "dx": 5.5, "fill": "#222"},
             "encoding": {"text": {"field": "label"},
               "x": {"datum": 4.95, "type": "quantitative", "title": "Relative P21 expression (△CT)", "axis": {"values": [5, 6, 7, 8, 9, 10, 11], "format": ".2f", "labelFontWeight": "normal", "labelFontSize": 7, "labelColor": "#333", "titleFontWeight": "normal", "titleFontSize": 8.5, "titleColor": "#222", "domainColor": "#9a9a9a", "tickColor": "#777", "tickSize": 3, "labelPadding": 2, "titlePadding": 2}},
               "y": {"datum": 3.35, "type": "quantitative", "title": "Relative AGAP2-AS1 expression (△CT)", "axis": {"values": [4, 6, 8, 10], "format": ".2f", "labelFontWeight": "normal", "labelFontSize": 7, "labelColor": "#333", "titleFontWeight": "normal", "titleFontSize": 8, "titleColor": "#222", "domainColor": "#9a9a9a", "tickColor": "#777", "tickSize": 3, "labelPadding": 2, "titlePadding": 1}}}}
          ]
        },
        {
          "width": 163, "height": 126,
          "view": {"stroke": "#9a9a9a", "strokeWidth": 1},
          "encoding": {
            "x": {"field": "x", "type": "quantitative", "scale": {"domain": [4.55, 12.35], "nice": false, "zero": false}, "title": "Relative E-cadherin expression (△CT)",
                  "axis": {"values": [6, 8, 10, 12], "format": ".2f", "labelFontWeight": "normal", "labelFontSize": 7, "labelColor": "#333", "titleFontWeight": "normal", "titleFontSize": 8.5, "titleColor": "#222", "domainColor": "#9a9a9a", "tickColor": "#777", "tickSize": 3, "labelPadding": 2, "titlePadding": 2}},
            "y": {"field": "y", "type": "quantitative", "scale": {"domain": [2.7, 10.4], "nice": false, "zero": false}, "title": "Relative AGAP2-AS1 expression (△CT)",
                  "axis": {"values": [4, 6, 8, 10], "format": ".2f", "labelFontWeight": "normal", "labelFontSize": 7, "labelColor": "#333", "titleFontWeight": "normal", "titleFontSize": 8, "titleColor": "#222", "domainColor": "#9a9a9a", "tickColor": "#777", "tickSize": 3, "labelPadding": 2, "titlePadding": 2}}
          },
          "layer": [
            {"data": {"name": "e2pts"},
             "mark": {"type": "point", "shape": "triangle-up", "size": 24, "strokeWidth": 0.8, "stroke": "#8a8a8a", "filled": false}},
            {"data": {"name": "e2fit"},
             "mark": {"type": "line", "stroke": "#a0a0a0", "strokeWidth": 1}},
            {"data": {"values": [{"label": "R=-0.400"}]},
             "mark": {"type": "text", "align": "left", "baseline": "middle", "fontSize": 8.5, "fill": "#222"},
             "encoding": {"text": {"field": "label"},
               "x": {"datum": 5.05, "type": "quantitative", "title": "Relative E-cadherin expression (△CT)", "axis": {"values": [6, 8, 10, 12], "format": ".2f", "labelFontWeight": "normal", "labelFontSize": 7, "labelColor": "#333", "titleFontWeight": "normal", "titleFontSize": 8.5, "titleColor": "#222", "domainColor": "#9a9a9a", "tickColor": "#777", "tickSize": 3, "labelPadding": 2, "titlePadding": 2}},
               "y": {"datum": 5.0, "type": "quantitative", "title": "Relative AGAP2-AS1 expression (△CT)", "axis": {"values": [4, 6, 8, 10], "format": ".2f", "labelFontWeight": "normal", "labelFontSize": 7, "labelColor": "#333", "titleFontWeight": "normal", "titleFontSize": 8, "titleColor": "#222", "domainColor": "#9a9a9a", "tickColor": "#777", "tickSize": 3, "labelPadding": 2, "titlePadding": 2}}}},
            {"data": {"values": [{"label": "P"}]},
             "mark": {"type": "text", "align": "left", "baseline": "middle", "fontSize": 8.5, "fontStyle": "italic", "fill": "#222"},
             "encoding": {"text": {"field": "label"},
               "x": {"datum": 5.05, "type": "quantitative", "title": "Relative E-cadherin expression (△CT)", "axis": {"values": [6, 8, 10, 12], "format": ".2f", "labelFontWeight": "normal", "labelFontSize": 7, "labelColor": "#333", "titleFontWeight": "normal", "titleFontSize": 8.5, "titleColor": "#222", "domainColor": "#9a9a9a", "tickColor": "#777", "tickSize": 3, "labelPadding": 2, "titlePadding": 2}},
               "y": {"datum": 3.35, "type": "quantitative", "title": "Relative AGAP2-AS1 expression (△CT)", "axis": {"values": [4, 6, 8, 10], "format": ".2f", "labelFontWeight": "normal", "labelFontSize": 7, "labelColor": "#333", "titleFontWeight": "normal", "titleFontSize": 8, "titleColor": "#222", "domainColor": "#9a9a9a", "tickColor": "#777", "tickSize": 3, "labelPadding": 2, "titlePadding": 2}}}},
            {"data": {"values": [{"label": "=0.01"}]},
             "mark": {"type": "text", "align": "left", "baseline": "middle", "fontSize": 8.5, "dx": 5.5, "fill": "#222"},
             "encoding": {"text": {"field": "label"},
               "x": {"datum": 5.05, "type": "quantitative", "title": "Relative E-cadherin expression (△CT)", "axis": {"values": [6, 8, 10, 12], "format": ".2f", "labelFontWeight": "normal", "labelFontSize": 7, "labelColor": "#333", "titleFontWeight": "normal", "titleFontSize": 8.5, "titleColor": "#222", "domainColor": "#9a9a9a", "tickColor": "#777", "tickSize": 3, "labelPadding": 2, "titlePadding": 2}},
               "y": {"datum": 3.35, "type": "quantitative", "title": "Relative AGAP2-AS1 expression (△CT)", "axis": {"values": [4, 6, 8, 10], "format": ".2f", "labelFontWeight": "normal", "labelFontSize": 7, "labelColor": "#333", "titleFontWeight": "normal", "titleFontSize": 8, "titleColor": "#222", "domainColor": "#9a9a9a", "tickColor": "#777", "tickSize": 3, "labelPadding": 2, "titlePadding": 2}}}}
          ]
        }
      ],
      "spacing": 9
    }
  ],
  "columns": 1,
  "align": "none",
  "spacing": 2,
  "resolve": {"scale": {"fill": "independent", "stroke": "independent", "xOffset": "independent"}, "legend": {"fill": "independent", "stroke": "independent"}},
  "config": {
    "font": "Liberation Sans",
    "view": {"stroke": null},
    "axis": {"grid": false, "labelOverlap": false, "domainColor": "#111", "tickColor": "#111", "labelColor": "#111", "titleColor": "#111", "labelFontWeight": "bold", "titleFontWeight": "bold", "labelFontSize": 7.5, "titleFontSize": 7.5, "tickSize": 2.5, "labelPadding": 1, "titlePadding": 2},
    "title": {"fontSize": 8, "fontWeight": "bold", "offset": 3, "color": "#111"},
    "legend": {"orient": "top-left", "offset": 7, "labelFontSize": 7.5, "labelFontWeight": "bold", "labelColor": "#111", "symbolType": "M-1,-0.6H1V0.6H-1Z", "symbolSize": 100, "symbolStrokeWidth": 1, "rowPadding": 0, "labelOffset": 4, "padding": 0}
  }
}
